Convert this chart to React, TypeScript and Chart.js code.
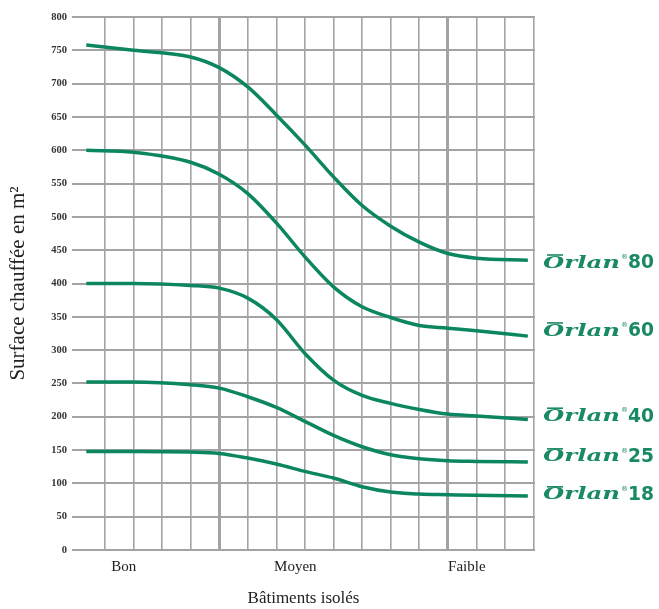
import React, { useEffect, useRef } from 'react';
import { Chart, registerables } from 'chart.js';
Chart.register(...registerables);

// Shared x positions (grid columns units) of the sampled points
const xPoints = [-0.65, 1, 3, 4, 5, 6, 7, 8, 9, 10, 11, 12, 13, 14.8];
const orlan80 = [758, 750, 740, 724, 695, 653, 608, 560, 517, 486, 462, 445, 438, 435];
const orlan60 = [600, 597, 582, 564, 535, 491, 440, 395, 365, 349, 337, 333, 329, 321];
const orlan40 = [400, 400, 397, 393, 378, 346, 295, 255, 232, 220, 211, 204, 201, 196];
const orlan25 = [252, 252, 248, 243, 230, 214, 193, 172, 155, 143, 137, 134, 133, 132];
const orlan18 = [148, 148, 147, 145, 138, 129, 118, 108, 95, 87, 84, 83, 82, 81];
const seriesNumbers = ['80', '60', '40', '25', '18'];
const labelAnchors = [432, 330, 202, 141, 84];
const gridColumns = [0, 1, 2, 3, 4, 5, 6, 7, 8, 9, 10, 11, 12, 13, 14, 15];
const thickColumns = [4, 12];
const categoryPositions = [0, 6, 12];
const categoryNames = ['Bon', 'Moyen', 'Faible'];
const yMin = 0;
const yMax = 800;
const yStep = 50;

const GREEN = '#0c8660';
const GRID = '#a3a3a3';

const seriesLabelPlugin = {
  id: 'seriesLabels',
  afterDraw(chart: any) {
    const ctx = chart.ctx;
    const y = chart.scales.y;
    const x0 = chart.chartArea.right + 8;
    ctx.save();
    ctx.fillStyle = '#1a8a63';
    ctx.textBaseline = 'middle';
    ctx.textAlign = 'left';
    seriesNumbers.forEach((num, i) => {
      const py = y.getPixelForValue(labelAnchors[i]);
      ctx.font = 'italic bold 17px "DejaVu Serif"';
      const word = 'Orlan';
      const w = ctx.measureText(word).width;
      ctx.save();
      ctx.translate(x0, py + 1);
      ctx.scale(77 / w, 1);
      ctx.fillText(word, 0, 0);
      ctx.restore();
      ctx.fillRect(x0 + 4, py - 8, 16, 1.6);
      ctx.font = '7px "DejaVu Sans"';
      ctx.fillText('®', x0 + 78, py - 5);
      ctx.font = 'bold 20px "DejaVu Sans Condensed", "DejaVu Sans"';
      const nw = ctx.measureText(num).width;
      ctx.save();
      ctx.translate(x0 + 85, py + 1);
      ctx.scale(26 / nw, 1);
      ctx.fillText(num, 0, 0);
      ctx.restore();
    });
    ctx.restore();
  },
};

export default function App() {
  const ref = useRef<HTMLCanvasElement>(null);
  useEffect(() => {
    if (!ref.current) return;
    const mk = (vals: number[]) => xPoints.map((x, i) => ({ x, y: vals[i] }));
    const all = [orlan80, orlan60, orlan40, orlan25, orlan18];
    const chart = new Chart(ref.current, {
      type: 'line',
      data: {
        datasets: all.map((vals, i) => ({
          label: 'Orlan ' + seriesNumbers[i],
          data: mk(vals),
          borderColor: GREEN,
          borderWidth: 3.5,
          pointRadius: 0,
          cubicInterpolationMode: 'monotone' as const,
          fill: false,
        })),
      },
      options: {
        animation: false,
        responsive: true,
        maintainAspectRatio: false,
        layout: { padding: { top: 17, right: 124, left: 0, bottom: 0 } },
        plugins: { legend: { display: false }, tooltip: { enabled: false } },
        scales: {
          x: {
            type: 'linear',
            min: -1.15,
            max: 15.05,
            afterBuildTicks: (axis: any) => {
              axis.ticks = gridColumns.map((v) => ({ value: v }));
            },
            afterFit: (axis: any) => {
              axis.height = 59;
            },
            border: { display: false },
            grid: {
              color: GRID,
              drawTicks: false,
              lineWidth: (c: any) => (c.tick && thickColumns.includes(c.tick.value) ? 3 : 1.6),
            },
            ticks: {
              autoSkip: false,
              maxRotation: 0,
              labelOffset: 19,
              padding: 8,
              color: '#222',
              font: { family: '"Liberation Serif"', size: 15 },
              callback: (v: any) => {
                const k = categoryPositions.indexOf(Number(v));
                return k >= 0 ? categoryNames[k] : '';
              },
            },
            title: {
              display: true,
              text: 'Bâtiments isolés',
              color: '#222',
              font: { family: '"Liberation Serif"', size: 17 },
              padding: { top: 0, bottom: 0 },
            },
          },
          y: {
            min: yMin,
            max: yMax,
            afterFit: (axis: any) => {
              axis.width = 72;
            },
            border: { display: false },
            grid: { color: GRID, drawTicks: false, lineWidth: 2 },
            ticks: {
              stepSize: yStep,
              padding: 5,
              color: '#333',
              font: { family: '"Liberation Serif"', size: 10.5, weight: 'bold' },
            },
            title: {
              display: true,
              text: 'Surface chauffée en m²',
              color: '#222',
              font: { family: '"Liberation Serif"', size: 21 },
              padding: { top: 6, bottom: 0 },
            },
          },
        },
      },
      plugins: [seriesLabelPlugin],
    } as any);
    return () => chart.destroy();
  }, []);
  return (
    <div style={{ position: 'absolute', left: 0, top: 0, width: 659, height: 609, background: '#fff' }}>
      <canvas ref={ref} />
    </div>
  );
}
